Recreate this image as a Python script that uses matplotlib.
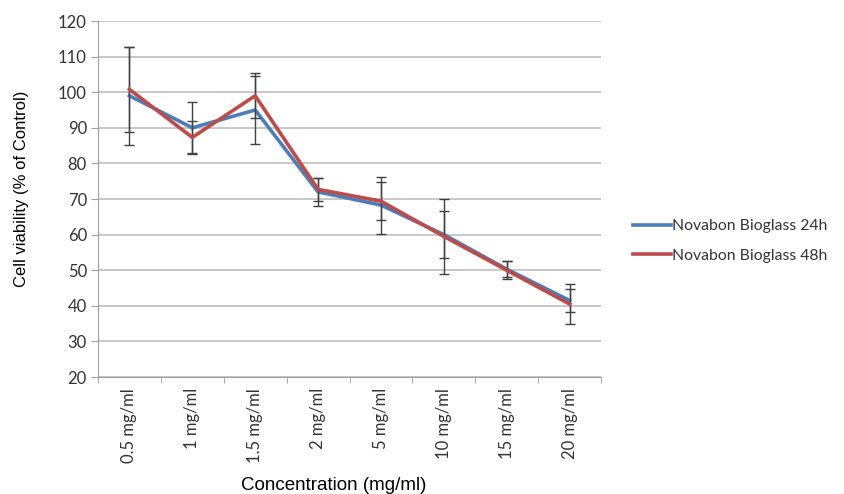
import numpy as np
import matplotlib
matplotlib.use("Agg")
from matplotlib import pyplot as plt
from matplotlib.lines import Line2D

concentrations = ["0.5 mg/ml", "1 mg/ml", "1.5 mg/ml", "2 mg/ml",
                  "5 mg/ml", "10 mg/ml", "15 mg/ml", "20 mg/ml"]
viability_24h = [99, 90, 95, 72, 68.3, 60, 50.3, 41.5]
err_24h = [13.7, 7.2, 9.5, 4, 8, 6.7, 2.3, 3.2]
viability_48h = [100.8, 87.3, 99, 72.7, 69.4, 59.5, 50, 40.5]
err_48h = [12, 4.7, 6.3, 3.3, 5.3, 10.6, 2.6, 5.6]

blue = "#4a7ebb"
red = "#be4b48"
grid_col = "#bfbfbf"

fig = plt.figure(figsize=(8.45, 4.94), dpi=100)
ax = fig.add_axes([98 / 845, 1 - 377 / 494, 503 / 845, 356 / 494])

x = np.arange(len(concentrations))
ax.errorbar(x, viability_24h, yerr=err_24h, color=blue, lw=2.6,
            ecolor="#404040", elinewidth=1, capsize=3.5, capthick=1, zorder=3)
ax.errorbar(x, viability_48h, yerr=err_48h, color=red, lw=2.6,
            ecolor="#404040", elinewidth=1, capsize=3.5, capthick=1, zorder=4)

ax.set_xlim(-0.5, len(concentrations) - 0.5)
ax.set_ylim(20, 120)
ax.set_yticks(range(20, 121, 10))
ax.set_xticks(x)
ax.set_xticklabels(concentrations, rotation=90, family="Lato", fontsize=12, color="#333333")
ax.set_xticks(np.arange(-0.5, len(concentrations)), minor=True)
ax.tick_params(axis="x", which="major", length=0, pad=8)
ax.tick_params(axis="x", which="minor", length=4, color="#a0a0a0", direction="out")
ax.tick_params(axis="y", length=5, color="#a0a0a0", labelsize=12, labelcolor="#333333", pad=3)
for lab in ax.get_yticklabels():
    lab.set_family("Lato")

ax.grid(axis="y", color=grid_col, lw=1.2)
ax.set_axisbelow(True)
for s in ["top", "right"]:
    ax.spines[s].set_visible(False)
ax.spines["left"].set_color("#a0a0a0")
ax.spines["bottom"].set_color("#a0a0a0")

fig.text(334 / 845, 1 - 485 / 494, "Concentration (mg/ml)", family="Liberation Sans",
         fontsize=13.5, ha="center", va="center")
fig.text(22 / 845, 1 - 189 / 494, "Cell viability (% of Control)", family="Liberation Sans",
         fontsize=12, ha="center", va="center", rotation=90)

handles = [Line2D([], [], color=blue, lw=2.6), Line2D([], [], color=red, lw=2.6)]
labels = ["Novabon Bioglass 24h", "Novabon Bioglass 48h"]
leg = fig.legend(handles, labels, loc="center left",
                 bbox_to_anchor=(622 / 845, 1 - 241 / 494), frameon=False,
                 prop={"family": "Lato", "size": 11.3}, handlelength=2.4,
                 handletextpad=0.1, labelspacing=1.0, borderpad=0.2)
for t in leg.get_texts():
    t.set_color("#333333")

fig.savefig("out.png", dpi=100, facecolor="white")
